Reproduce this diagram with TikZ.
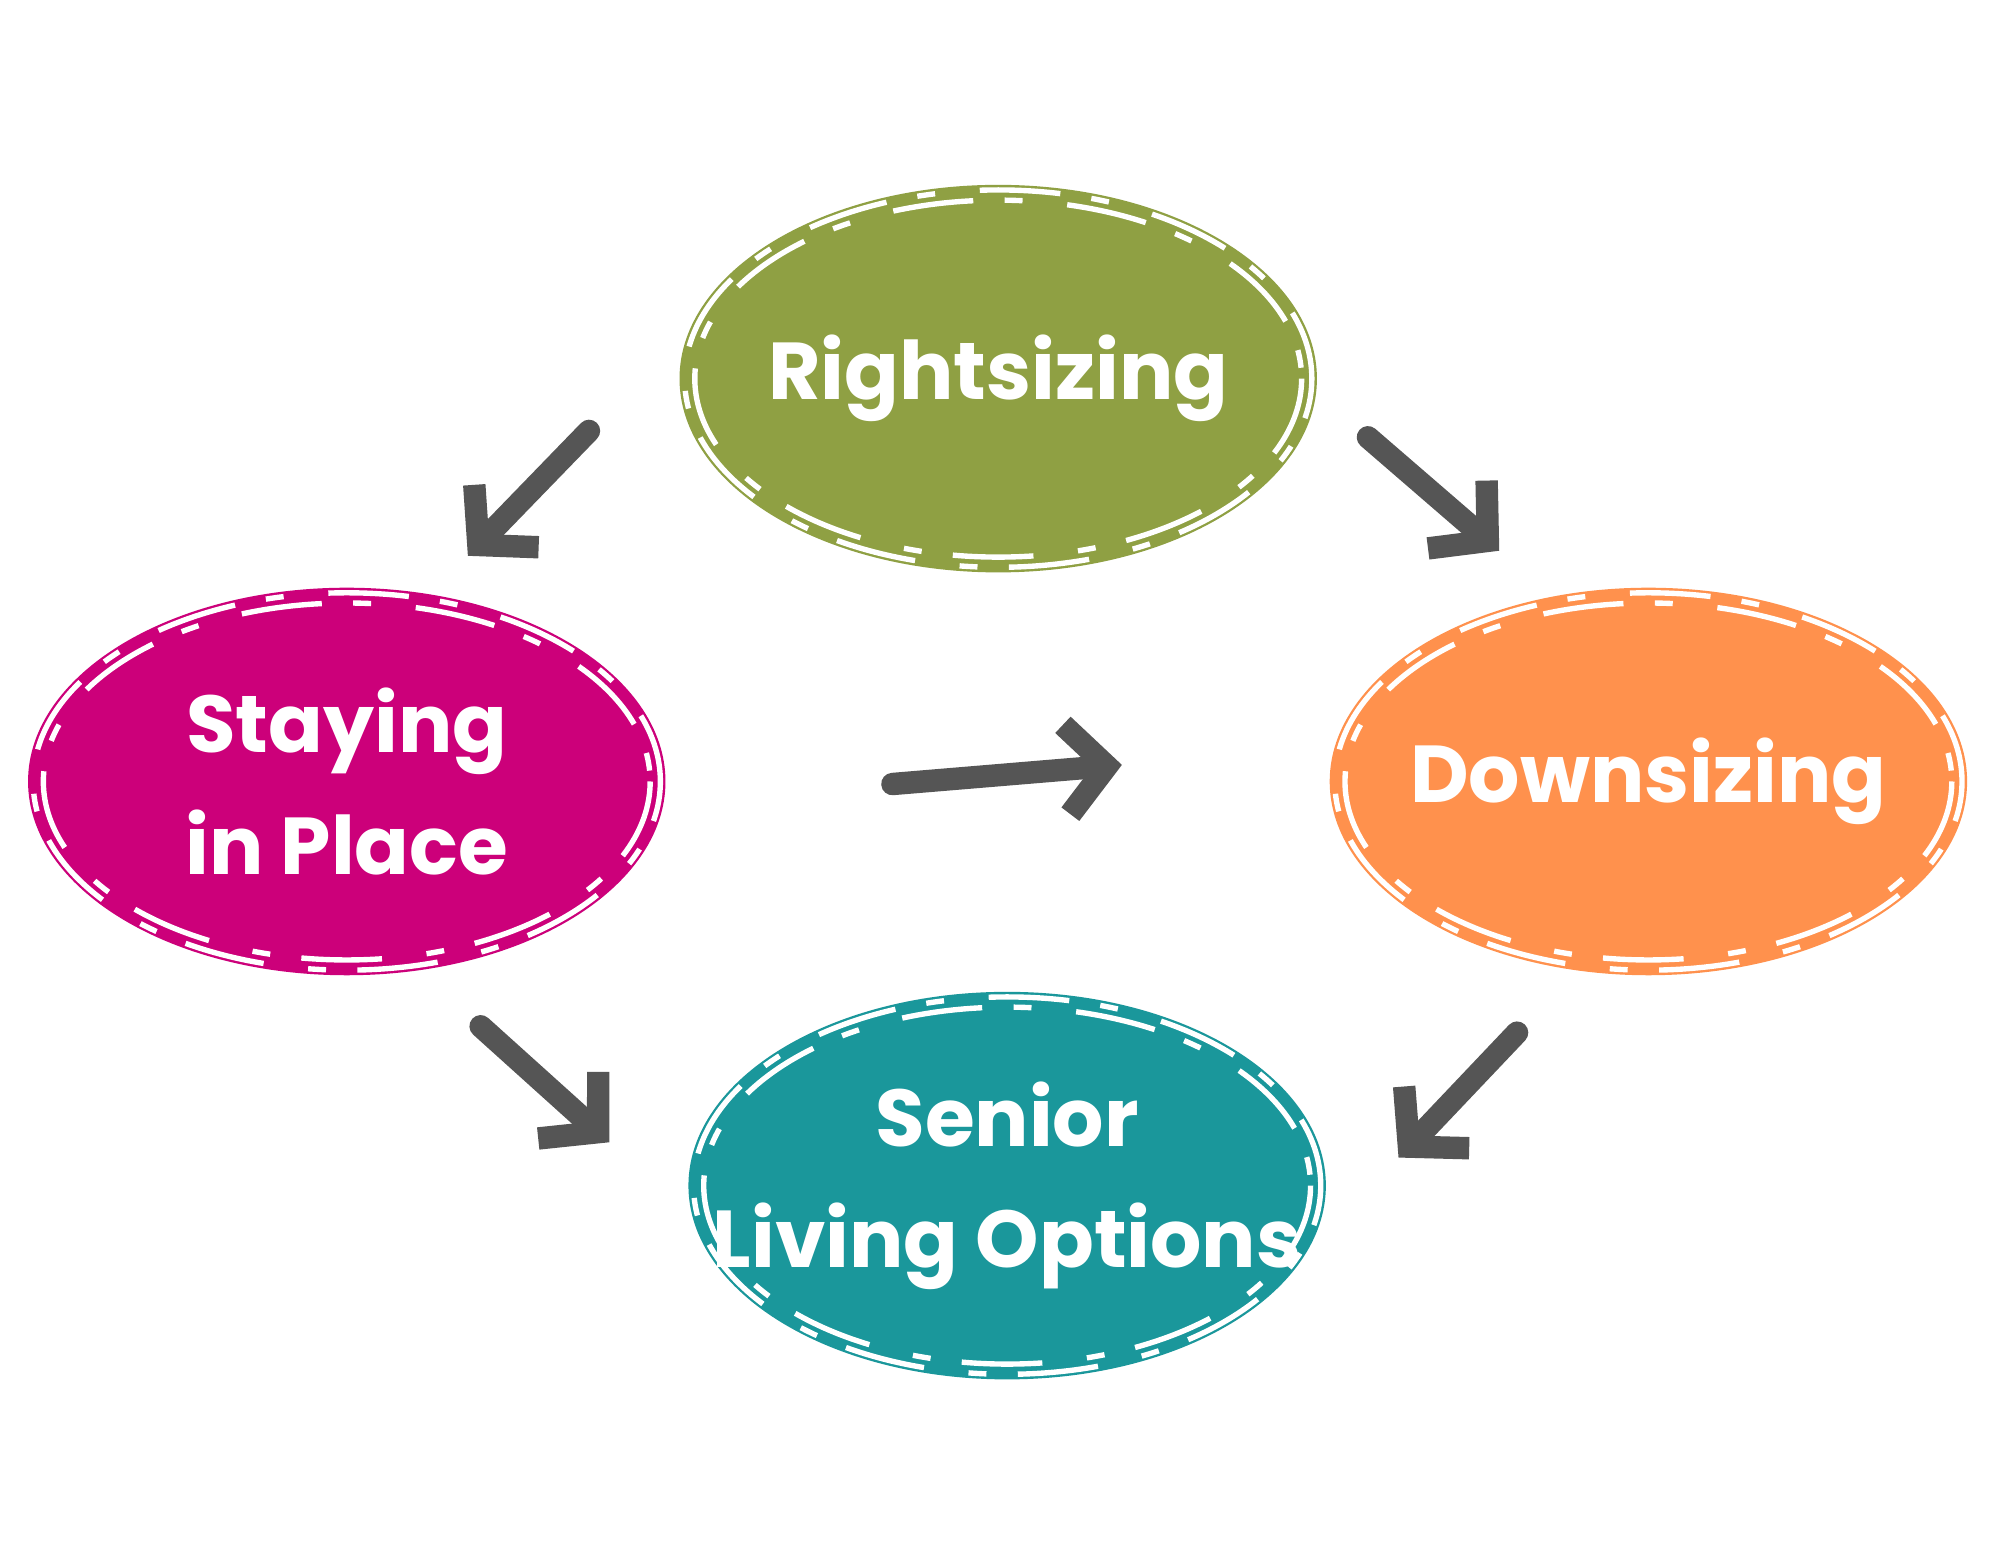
\documentclass[tikz,border=0pt]{standalone}
\usepackage{fontspec}
\setmainfont{Poppins}
\usetikzlibrary{arrows.meta,shapes.geometric}
\definecolor{olive}{HTML}{8FA043}
\definecolor{mag}{HTML}{CC007A}
\definecolor{orng}{HTML}{FF914D}
\definecolor{teal2}{HTML}{1A979B}
\definecolor{arr}{HTML}{555555}
\begin{document}
\begin{tikzpicture}[x=0.01cm,y=-0.01cm,
  blob/.style={ellipse, minimum width=5cm, minimum height=3cm, inner sep=0pt, text=white, align=center, font=\fontsize{18}{27}\selectfont\bfseries},
  brush/.style={white, line width=1.2pt, dash pattern=on 18pt off 7pt on 4pt off 10pt},
  conn/.style={arr, line width=5pt, line cap=round, -{Straight Barb[length=9pt,width=20pt,line width=5pt]}}]
\useasboundingbox (0,0) rectangle (1568,1210);
\fill[white] (0,0) rectangle (1568,1210);
\def\blobat#1#2#3#4#5{%
  \fill[#4] (#2,#3) ellipse [x radius=250, y radius=152];
  \draw[brush] (#2,#3) ellipse [x radius=238, y radius=140];
  \draw[brush,dash phase=9pt] (#2,#3) ellipse [x radius=246, y radius=148];
  \node[blob] (#1) at (#2,#3) {#5};}
\blobat{r}{783}{297}{olive}{Rightsizing}
\blobat{s}{272}{613}{mag}{Staying\\in Place}
\blobat{d}{1293}{613}{orng}{Downsizing}
\blobat{o}{790}{930}{teal2}{Senior\\Living Options}
\coordinate (a1) at (462,338); \coordinate (b1) at (367,436);
\coordinate (a2) at (1073,343); \coordinate (b2) at (1176,432);
\coordinate (a3) at (700,615); \coordinate (b3) at (880,600);
\coordinate (a4) at (377,805); \coordinate (b4) at (478,896);
\coordinate (a5) at (1190,810); \coordinate (b5) at (1097,908);
\foreach \i in {1,...,5} \draw[conn] (a\i) -- (b\i);
\end{tikzpicture}
\end{document}
